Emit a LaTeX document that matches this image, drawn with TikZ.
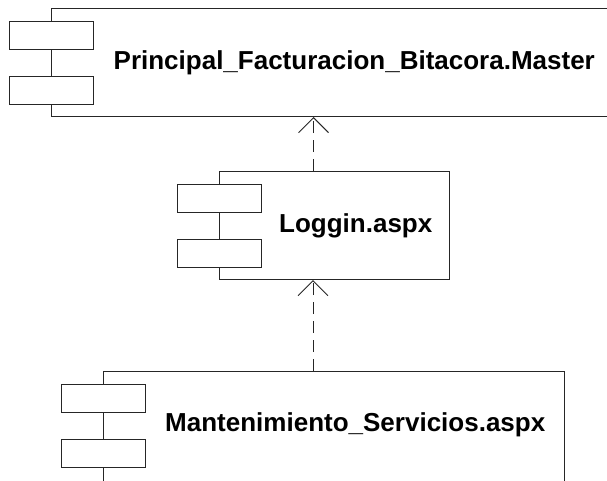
\documentclass[tikz,border=0pt]{standalone}
\usepackage{fontspec}
\setmainfont{Liberation Sans}
\usetikzlibrary{arrows.meta,positioning,calc}

\tikzset{
  comp/.style={draw=black!85, line width=1pt, anchor=north west, inner sep=0pt, minimum height=108pt},
  port/.style={draw=black!85, fill=white, line width=1pt, minimum width=84pt, minimum height=28pt, inner sep=0pt},
  comptext/.style={font=\fontsize{26}{30}\selectfont\bfseries, inner sep=0pt},
  dep/.style={draw=black!85, line width=1pt, dash pattern=on 12pt off 7pt, -{Straight Barb[length=15pt,width=30pt,line width=1pt]}}
}

\begin{document}
\begin{tikzpicture}[x=1pt,y=-1pt]
  \useasboundingbox (0,0) rectangle (607,480);
  \clip (0,0) rectangle (607,480);

  \node[comp, minimum width=563pt] (master) at (51,8) {};
  \node[port] (master-p1) at ([yshift=-27pt]master.north west) {};
  \node[port] (master-p2) at ([yshift=-82pt]master.north west) {};
  \node[comptext] (master-t) at ($(master-p1.east |- master.center)!0.5!(master.east)$) {Principal\_Facturacion\_Bitacora.Master};

  \node[comp, minimum width=230pt] (loggin) at (219,171) {};
  \node[port] (loggin-p1) at ([yshift=-27pt]loggin.north west) {};
  \node[port] (loggin-p2) at ([yshift=-82pt]loggin.north west) {};
  \node[comptext] (loggin-t) at ($(loggin-p1.east |- loggin.center)!0.5!(loggin.east)$) {Loggin.aspx};

  \node[comp, minimum width=461pt, minimum height=112pt] (mant) at (103,371) {};
  \node[port] (mant-p1) at ([yshift=-27pt]mant.north west) {};
  \node[port] (mant-p2) at ([yshift=-82pt]mant.north west) {};
  \node[comptext] (mant-t) at ($(mant-p1.east)!0.5!(mant-p1.east -| mant.east)$) [yshift=-27pt] {Mantenimiento\_Servicios.aspx};

  \draw[dep] ([xshift=-21pt]loggin.north) -- ([xshift=-21pt]loggin.north |- master.south);
  \draw[dep] ([xshift=-21pt]mant.north) -- ([xshift=-21pt]mant.north |- loggin.south);
\end{tikzpicture}
\end{document}
